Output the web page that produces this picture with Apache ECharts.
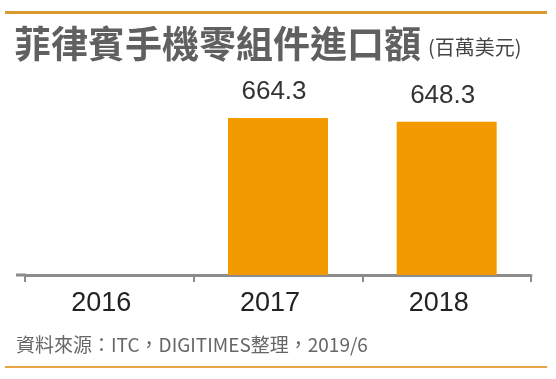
<!DOCTYPE html>
<html>
<head>
<meta charset="utf-8">
<script src="https://cdn.jsdelivr.net/npm/echarts@6/dist/echarts.min.js"></script>
<style>
html,body{margin:0;padding:0;background:#fff;}
#c{width:556px;height:379px;}
</style>
</head>
<body>
<div id="c"></div>
<script>
const titleText = '菲律賓手機零組件進口額';
const unitText = '(百萬美元)';
const sourceText = '資料來源：ITC，DIGITIMES整理，2019/6';
const categories = ['2016', '2017', '2018'];
const values = [null, 664.3, 648.3];

const chart = echarts.init(document.getElementById('c'), null, {renderer: 'canvas'});
const cjk = '"Noto Sans CJK TC", "Noto Sans CJK SC", sans-serif';
const latin = '"Liberation Sans", Arial, sans-serif';

chart.setOption({
  animation: false,
  backgroundColor: '#ffffff',
  title: [
    {text: titleText, left: 9, top: 20, textStyle: {fontFamily: cjk, fontSize: 37, fontWeight: 'bold', color: '#606060'}},
    {text: unitText, left: 423, top: 32, textStyle: {fontFamily: cjk, fontSize: 20, fontWeight: 'normal', color: '#444'}},
    {text: sourceText, left: 11, top: 330, textStyle: {fontFamily: cjk, fontSize: 19, fontWeight: 'normal', color: '#666'}}
  ],
  graphic: [
    {type: 'rect', shape: {x: 5, y: 11, width: 542, height: 3}, style: {fill: '#d99a30'}},
    {type: 'rect', shape: {x: 5, y: 366, width: 542, height: 2}, style: {fill: '#e8a548'}},
    {type: 'rect', shape: {x: 16, y: 273.5, width: 10, height: 3}, style: {fill: '#8c8c8c'}}
  ],
  grid: {left: 25, right: 25, top: 86, bottom: 104, containLabel: false},
  xAxis: {
    type: 'category',
    data: categories,
    axisLine: {show: true, lineStyle: {color: '#8c8c8c', width: 3}},
    axisTick: {show: true, length: 7, lineStyle: {color: '#8c8c8c', width: 2}},
    axisLabel: {fontFamily: latin, fontSize: 27, color: '#222', margin: 15, padding: [0, 16, 0, 0]}
  },
  yAxis: {type: 'value', min: 0, max: 800, show: false, splitLine: {show: false}},
  series: [{
    type: 'bar',
    data: values,
    barWidth: 100,
    itemStyle: {color: '#f29a00'},
    label: {
      show: true, position: 'top', distance: 13, offset: [-4, 0],
      fontFamily: latin, fontSize: 26, color: '#333',
      formatter: p => p.value == null ? '' : p.value.toFixed(1)
    }
  }]
});
</script>
</body>
</html>
